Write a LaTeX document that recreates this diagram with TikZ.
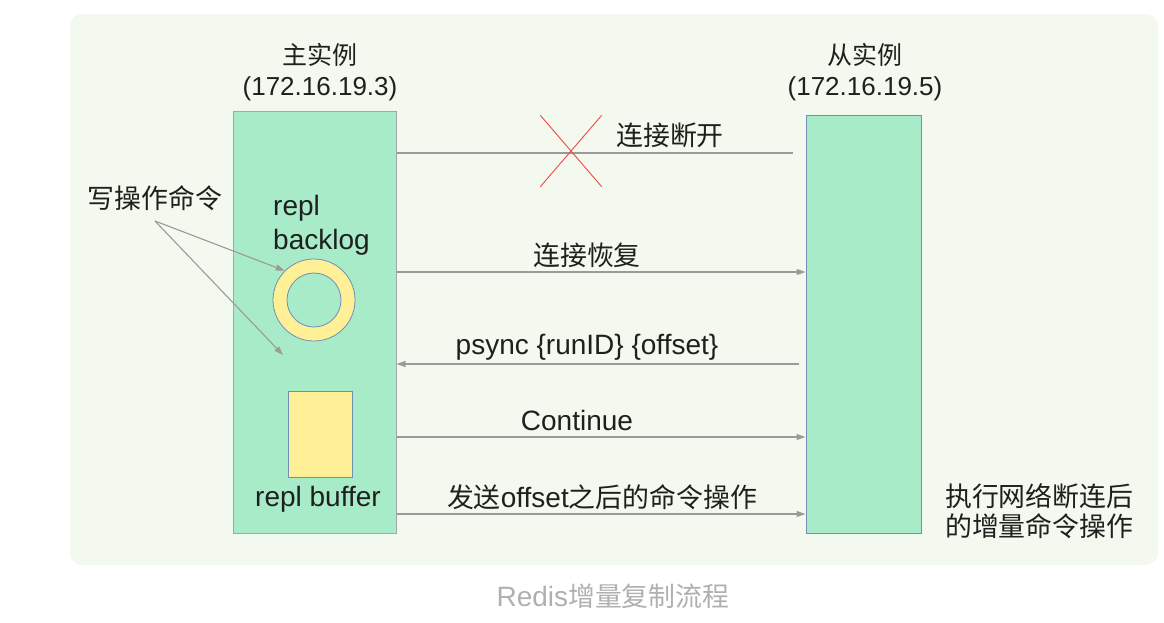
\documentclass[tikz,border=0pt]{standalone}
\usepackage{fontspec}
\setmainfont{Liberation Sans}
\newfontfamily\cjk{Noto Sans CJK SC}[Scale=0.96]
\usetikzlibrary{arrows.meta}

\definecolor{panelbg}{HTML}{F3F9EE}
\definecolor{instgreen}{HTML}{A8EBC8}
\definecolor{bufyellow}{HTML}{FFEF96}
\definecolor{edgeblue}{HTML}{6F8FB5}
\definecolor{flowgray}{HTML}{9A9A9A}
\definecolor{crossred}{HTML}{F04848}
\definecolor{captiongray}{HTML}{B0B0B0}

\begin{document}
\begin{tikzpicture}[
    x=1pt, y=-1pt,
    rd label/.style={
        font=\fontsize{28}{31}\selectfont,
        text=black!88,
        inner sep=0pt
    },
    rd instance/.style={
        draw=#1,
        fill=instgreen,
        line width=1pt,
        inner sep=0pt
    },
    rd flow/.style={
        draw=flowgray,
        line width=1.1pt
    },
    rd arrow/.style={
        rd flow,
        -{Triangle[length=9pt,width=6pt]}
    }
]
    \useasboundingbox (0,0) rectangle (1164,622);
    \fill[panelbg, rounded corners=12pt] (70,14) rectangle (1158,565);

    % Instanzen
    \node[rd instance=gray!70, minimum width=163pt, minimum height=422pt]
        (master) at (314.5,322) {};
    \node[rd instance=edgeblue, minimum width=115pt, minimum height=418pt]
        (slave) at (863.5,324) {};
    \node[rd label, align=center, font=\fontsize{26}{31}\selectfont]
        (mastertitle) at (320,72.5) {{\cjk 主实例}\\(172.16.19.3)};
    \node[rd label, align=center, font=\fontsize{26}{31}\selectfont]
        (slavetitle) at (865,72.5) {{\cjk 从实例}\\(172.16.19.5)};

    % Puffer im Master
    \node[rd label, align=left, anchor=west, font=\fontsize{28}{34}\selectfont]
        (backlogname) at (273,225) {repl\\backlog};
    \node[circle, draw=edgeblue, fill=bufyellow, line width=0.8pt,
        minimum size=82pt, inner sep=0pt] (backlog) at (314,300) {};
    \node[circle, draw=edgeblue, fill=instgreen, line width=0.8pt,
        minimum size=54pt, inner sep=0pt] (backloghole) at (backlog) {};
    \node[draw=edgeblue, fill=bufyellow, line width=0.8pt,
        minimum width=64pt, minimum height=86pt] (buffer) at (320,434) {};
    \node[rd label] (buffername) at (318,499) {repl buffer};

    % Schreibbefehle
    \node[rd label] (writecmd) at (155,198) {\cjk 写操作命令};
    \coordinate (writesrc) at (155,221);
    \coordinate (buffertarget) at (283,355);
    \draw[rd arrow] (writesrc) -- (backlog.135);
    \draw[rd arrow] (writesrc) -- (buffertarget);

    % Verbindung bricht ab
    \coordinate (cutend) at (793,153);
    \draw[rd flow] (master.east |- cutend) -- (cutend);
    \node[minimum width=61pt, minimum height=71pt] (cross) at (571,151) {};
    \draw[crossred, line width=0.9pt] (cross.north west) -- (cross.south east);
    \draw[crossred, line width=0.9pt] (cross.north east) -- (cross.south west);
    \node[rd label] (cutlabel) at (670,135) {\cjk 连接断开};

    % Nachrichten zwischen den Instanzen
    \foreach \step/\ypos/\xpos/\msg in {resume/272/587/{\cjk 连接恢复},
            cont/437/577/Continue,
            send/514/602/{{\cjk 发送}offset{\cjk 之后的命令操作}}} {
        \draw[rd arrow] (master.east |- 0,\ypos) -- (slave.west |- 0,\ypos);
        \node[rd label] (\step label) at (\xpos,\ypos-17) {\msg};
    }
    \coordinate (psyncsrc) at (799,364);
    \draw[rd arrow] (psyncsrc) -- (master.east |- psyncsrc);
    \node[rd label] (psynclabel) at (587,347) {psync \{runID\} \{offset\}};

    \node[rd label, align=left, anchor=west, font=\fontsize{28}{30}\selectfont]
        (slavenote) at (945,511) {\cjk 执行网络断连后\\\cjk 的增量命令操作};

    \node[rd label, text=captiongray] (caption) at (613,596)
        {Redis{\cjk 增量复制流程}};
\end{tikzpicture}
\end{document}
